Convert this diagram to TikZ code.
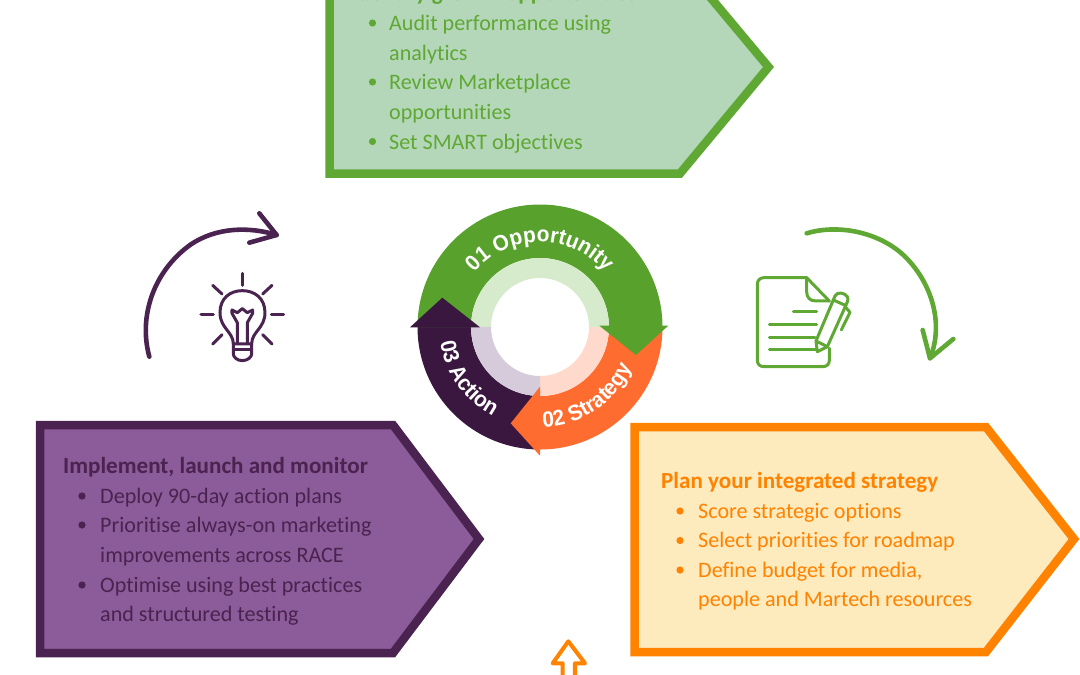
\documentclass[tikz,border=0pt]{standalone}
\usepackage{fontspec}
\usetikzlibrary{decorations.text}
\setmainfont[Ligatures=NoCommon]{Carlito}
\newfontfamily\ringfont[FakeStretch=0.95]{Liberation Sans}
\definecolor{grn}{HTML}{5FA833}
\definecolor{grnring}{HTML}{58A12C}
\definecolor{grnfill}{HTML}{B3D7B8}
\definecolor{grnpale}{HTML}{D6EBCC}
\definecolor{org}{HTML}{FF8200}
\definecolor{orgring}{HTML}{FF6C2F}
\definecolor{orgfill}{HTML}{FDEABD}
\definecolor{orgpale}{HTML}{FFD9CB}
\definecolor{pur}{HTML}{4A2350}
\definecolor{purring}{HTML}{3A173F}
\definecolor{purfill}{HTML}{8B5C99}
\definecolor{purpale}{HTML}{D6CBDB}
\tikzset{
  panel/.style={line width=8.5pt,miter limit=10},
  label/.style={anchor=base west,inner sep=0pt,font=\fontsize{22.1}{23}\selectfont},
  heading/.style={label,font=\fontsize{23.1}{23}\selectfont\bfseries},
  icon/.style={line width=#1,line cap=round,line join=round},
  ringtext/.style={decorate,decoration={text along path,text align=center,
    text={|\color{white}\ringfont\bfseries\fontsize{22}{22}\selectfont|#1}}}
}
\newcommand{\dotmark}[2]{\fill (#1,#2) circle (3.6);}
\begin{document}
\begin{tikzpicture}[x=1pt,y=-1pt]
\useasboundingbox (0,0) rectangle (1080,675);
\clip (0,0) rectangle (1080,675);

% Three arrow-shaped panels
\draw[panel,draw=grn,fill=grnfill] (329.5,-39) -- (680,-39) -- (768.5,67) -- (680,173.5) -- (329.5,173.5) -- cycle;
\draw[panel,draw=pur,fill=purfill] (40,425) -- (393,425) -- (479,539) -- (393,653) -- (40,653) -- cycle;
\draw[panel,draw=org,fill=orgfill] (634.5,427) -- (986,427) -- (1074,539) -- (986,652) -- (634.5,652) -- cycle;

% Opportunity panel text
\begin{scope}[color=grn,text=grn]
\node[heading] (g0) at (352,0) {Identify growth opportunities};
\node[label] (g1) at (389,30) {Audit performance using};
\node[label] (g2) at (389,60) {analytics};
\node[label] (g3) at (389,89.5) {Review Marketplace};
\node[label] (g4) at (389,119) {opportunities};
\node[label] (g5) at (389,149) {Set SMART objectives};
\dotmark{372.5}{23}\dotmark{372.5}{82}\dotmark{372.5}{141.5}
\end{scope}

% Action panel text
\begin{scope}[color=pur,text=pur]
\node[heading] (p0) at (63,473) {Implement, launch and monitor};
\node[label] (p1) at (100,503) {Deploy 90-day action plans};
\node[label] (p2) at (100,532.5) {Prioritise always-on marketing};
\node[label] (p3) at (100,562) {improvements across RACE};
\node[label] (p4) at (100,592) {Optimise using best practices};
\node[label] (p5) at (100,621.5) {and structured testing};
\dotmark{82}{496}\dotmark{82}{525}\dotmark{82}{585}
\end{scope}

% Strategy panel text
\begin{scope}[color=org,text=org]
\node[heading] (o0) at (661,488) {Plan your integrated strategy};
\node[label] (o1) at (698,518) {Score strategic options};
\node[label] (o2) at (698,547.5) {Select priorities for roadmap};
\node[label] (o3) at (698,577) {Define budget for media,};
\node[label] (o4) at (698,606.5) {people and Martech resources};
\dotmark{680}{511}\dotmark{680}{540.5}\dotmark{680}{570}
\end{scope}

% Central cycle wheel
\begin{scope}[shift={(540,327)},x=1pt,y=1pt]
\fill[purring] (180:122.5) arc (180:270:122.5) -- (270:69) arc (270:180:69) -- cycle;
\fill[orgring] (270:122.5) arc (270:360:122.5) -- (0:69) arc (360:270:69) -- cycle;
\fill[grnring] (0:122.5) arc (0:180:122.5) -- (180:69) arc (180:0:69) -- cycle;
\fill[grnpale] (0:69) arc (0:180:69) -- (180:49) arc (180:0:49) -- cycle;
\fill[orgpale] (270:69) arc (270:360:69) -- (0:49) arc (360:270:49) -- cycle;
\fill[purpale] (180:69) arc (180:270:69) -- (270:49) arc (270:180:49) -- cycle;
\fill[orgring] (0,-59.7) -- (0,-128.7) -- (-29.3,-96.3) -- cycle;
\fill[grnring] (59.3,1.3) -- (128.3,1.3) -- (96,-28) -- cycle;
\fill[purring] (-130,-0.3) -- (-60,-0.3) -- (-97.7,29.3) -- cycle;
\path[ringtext={01 Opportunity}] (142:85) arc (142:38:85);
\path[ringtext={02 Strategy}] (-93:100) arc (-93:-19:100);
\path[ringtext={03 Action}] (184:101) arc (184:247:101);
\end{scope}

% Curved arrow and light bulb
\begin{scope}[shift={(130,200)},x=0.3333pt,y=-0.3333pt,draw=pur]
\draw[icon=4.6pt] (58,470) .. controls (25,350) and (70,215) .. (180,135) .. controls (260,80) and (360,80) .. (440,105);
\draw[icon=4.6pt] (388,40) -- (440,105) -- (358,128);
\draw[icon=3pt] (337,220) -- (337,256);
\draw[icon=3pt] (248,256) -- (276,282);
\draw[icon=3pt] (426,256) -- (398,282);
\draw[icon=3pt] (213,344) -- (250,344);
\draw[icon=3pt] (424,344) -- (461,344);
\draw[icon=3pt] (248,432) -- (276,404);
\draw[icon=3pt] (426,432) -- (398,404);
\draw[icon=3pt] (310,432) .. controls (310,395) and (270,385) .. (270,338)
  .. controls (270,295) and (300,272) .. (337,272)
  .. controls (374,272) and (405,295) .. (405,338)
  .. controls (405,385) and (365,395) .. (365,432) -- cycle;
\draw[icon=3pt] (322,430) -- (322,368) -- (306,340) -- (306,330) -- (322,338) -- (337,326) -- (352,338) -- (368,330) -- (368,340) -- (352,368) -- (352,430);
\draw[icon=3pt] (310,432) -- (310,462) .. controls (310,470) and (320,482) .. (337,482) .. controls (354,482) and (365,470) .. (365,462) -- (365,432);
\draw[icon=3pt] (310,448) -- (365,448);
\end{scope}

% Curved arrow and document with pen
\begin{scope}[shift={(740,215)},x=0.3333pt,y=-0.3333pt,draw=grn]
\draw[icon=4.6pt] (200,55) .. controls (300,25) and (420,55) .. (490,120) .. controls (570,195) and (615,320) .. (570,430);
\draw[icon=4.6pt] (548,345) -- (570,430) -- (640,372);
\draw[icon=3pt] (268,400) -- (268,436) .. controls (268,448) and (260,455) .. (248,455) -- (72,455) .. controls (60,455) and (52,448) .. (52,436) -- (52,208) .. controls (52,196) and (60,188) .. (72,188) -- (200,188) -- (268,258);
\draw[icon=3pt] (200,188) -- (200,230) .. controls (200,248) and (210,258) .. (228,258) -- (268,258);
\draw[icon=3pt] (160,289) -- (230,289);
\draw[icon=3pt] (88,328) -- (230,328);
\draw[icon=3pt] (88,367) -- (225,367);
\draw[icon=3pt] (88,405) -- (230,405);
\draw[icon=3pt] (228,378) -- (285,243) .. controls (292,228) and (315,234) .. (322,245) .. controls (326,255) and (322,262) .. (318,270) -- (262,395) -- (232,410) -- cycle;
\draw[icon=3pt] (228,378) -- (262,395);
\draw[icon=3pt] (280,255) -- (318,272);
\draw[icon=3pt] (318,278) -- (330,292) -- (304,345);
\end{scope}

% Small arrow at the foot of the picture
\begin{scope}[shift={(530,630)},x=0.3333pt,y=-0.3333pt]
\draw[icon=4pt,draw=org] (98,150) -- (98,100) -- (68,100) -- (115,34) -- (165,100) -- (135,100) -- (135,150);
\end{scope}
\end{tikzpicture}
\end{document}
